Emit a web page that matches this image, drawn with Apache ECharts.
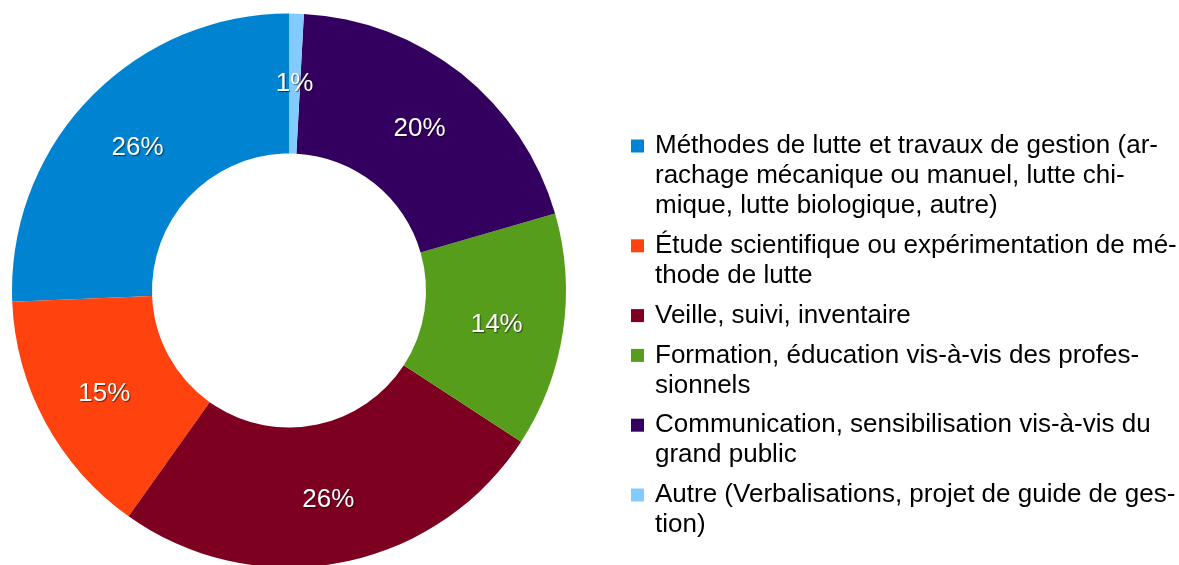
<!DOCTYPE html>
<html>
<head>
<meta charset="utf-8">
<script src="https://cdn.jsdelivr.net/npm/echarts@6/dist/echarts.min.js"></script>
<style>
html,body{margin:0;padding:0;background:#fff;}
#chart{width:1179px;height:565px;}
</style>
</head>
<body>
<div id="chart"></div>
<script>
const categories = [
  "Méthodes de lutte et travaux de gestion (arrachage mécanique ou manuel, lutte chimique, lutte biologique, autre)",
  "Étude scientifique ou expérimentation de méthode de lutte",
  "Veille, suivi, inventaire",
  "Formation, éducation vis-à-vis des professionnels",
  "Communication, sensibilisation vis-à-vis du grand public",
  "Autre (Verbalisations, projet de guide de gestion)"
];
const legendLines = [
  ["Méthodes de lutte et travaux de gestion (ar-", "rachage mécanique ou manuel, lutte chi-", "mique, lutte biologique, autre)"],
  ["Étude scientifique ou expérimentation de mé-", "thode de lutte"],
  ["Veille, suivi, inventaire"],
  ["Formation, éducation vis-à-vis des profes-", "sionnels"],
  ["Communication, sensibilisation vis-à-vis du", "grand public"],
  ["Autre (Verbalisations, projet de guide de ges-", "tion)"]
];
const values = [30, 17, 30, 16, 23, 1];
const colors = ["#0084d1", "#ff420e", "#7e0021", "#579d1c", "#340060", "#83caff"];

const rich = {
  g: { width: 11 },
  ind: { width: 24 }
};
colors.forEach((c, i) => {
  rich['sq' + i] = { width: 13, height: 13, backgroundColor: c };
});

const chart = echarts.init(document.getElementById('chart'), null, { renderer: 'canvas' });
chart.setOption({
  animation: false,
  backgroundColor: '#ffffff',
  color: colors,
  legend: {
    orient: 'vertical',
    left: 626,
    top: 131,
    padding: 0,
    itemGap: 9.8,
    itemWidth: 0,
    itemHeight: 0,
    itemStyle: { opacity: 0 },
    selectedMode: false,
    data: categories,
    formatter: function (name) {
      const i = categories.indexOf(name);
      const lines = legendLines[i];
      return lines.map((l, k) => (k === 0 ? '{sq' + i + '|}{g|}' : '{ind|}') + l).join('\n');
    },
    textStyle: {
      fontFamily: 'Liberation Sans',
      fontSize: 26,
      lineHeight: 30,
      color: '#000000',
      rich: rich
    }
  },
  series: [{
    type: 'pie',
    center: [289, 290.5],
    radius: [137, 277],
    startAngle: 90,
    clockwise: false,
    avoidLabelOverlap: false,
    emphasis: { disabled: true },
    itemStyle: { borderWidth: 0 },
    label: {
      show: true,
      position: 'inside',
      offset: [0, 3],
      formatter: function (p) { return Math.round(p.percent) + '%'; },
      color: '#ffffff',
      fontFamily: 'Liberation Sans',
      fontSize: 26,
      textBorderWidth: 0,
      textShadowColor: 'rgba(0,0,0,0.55)',
      textShadowOffsetX: 1,
      textShadowOffsetY: 1,
      textShadowBlur: 1
    },
    labelLine: { show: false },
    data: categories.map((n, i) => ({ name: n, value: values[i] }))
  }]
});
</script>
</body>
</html>
